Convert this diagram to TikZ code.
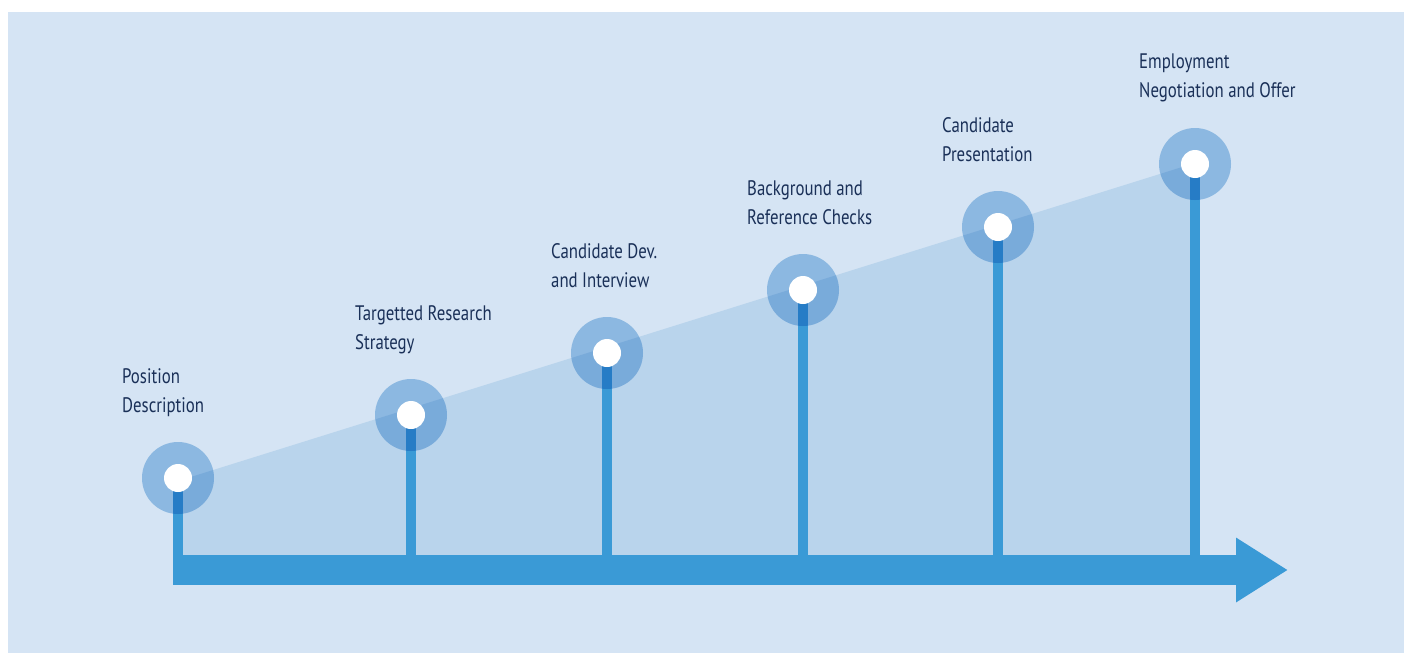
\documentclass[tikz,border=0pt]{standalone}
\usepackage{fontspec}
\setmainfont{PT Sans}[FakeStretch=0.8]
\usepackage{xcolor}
\usetikzlibrary{positioning, arrows.meta}

\definecolor{panelbg}{HTML}{D5E4F4}
\definecolor{areablue}{HTML}{B9D4EC}
\definecolor{axisblue}{HTML}{3A9AD6}
\definecolor{haloblue}{RGB}{168,206,236}
\definecolor{labelnavy}{HTML}{1A3058}

\begin{document}
\begin{tikzpicture}[x=1pt, y=-1pt,
    halo/.style={circle, fill=haloblue, minimum size=72pt, inner sep=0pt},
    dot/.style={circle, fill=white, minimum size=28pt, inner sep=0pt},
    stem/.style={axisblue, line width=10pt},
    axisline/.style={axisblue, line width=30pt, -{Triangle[width=61pt, length=52pt]}},
    steplabel/.style={anchor=north west, inner sep=0pt, align=left, text=labelnavy,
      font=\fontsize{21}{29}\selectfont}]
      \useasboundingbox (0,0) rectangle (1404,653);
      \fill[white] (0,0) rectangle (1404,653);
      \fill[panelbg] (8,12) rectangle (1404,653);

      % time axis
      \coordinate (a0) at (173,570);
      \coordinate (a1) at (1288,570);

      % rising area under the steps
      \fill[areablue] (178,481) -- (1195,163) -- (1195,555) -- (178,555) -- cycle;

      % steps
      \coordinate (h1) at (178,478);
      \coordinate (h2) at (411,415);
      \coordinate (h3) at (607,353);
      \coordinate (h4) at (803,290);
      \coordinate (h5) at (998,227);
      \coordinate (h6) at (1195,164);

      \draw[stem] (h1) -- (h1 |- a0);
      \draw[stem] (h2) -- (h2 |- a0);
      \draw[stem] (h3) -- (h3 |- a0);
      \draw[stem] (h4) -- (h4 |- a0);
      \draw[stem] (h5) -- (h5 |- a0);
      \draw[stem] (h6) -- (h6 |- a0);

      \draw[axisline] (a0) -- (a1);

      \begin{scope}[blend mode=multiply]
        \node[halo] (r1) at (h1) {};
        \node[halo] (r2) at (h2) {};
        \node[halo] (r3) at (h3) {};
        \node[halo] (r4) at (h4) {};
        \node[halo] (r5) at (h5) {};
        \node[halo] (r6) at (h6) {};
      \end{scope}

      \node[dot] (d1) at (r1) {};
      \node[dot] (d2) at (r2) {};
      \node[dot] (d3) at (r3) {};
      \node[dot] (d4) at (r4) {};
      \node[dot] (d5) at (r5) {};
      \node[dot] (d6) at (r6) {};

      % labels
      \node[steplabel] (t1) at (122,368) {Position\\Description};
      \node[steplabel] (t2) at (355,305) {Targetted Research\\Strategy};
      \node[steplabel] (t3) at (551,243) {Candidate Dev.\\and Interview};
      \node[steplabel] (t4) at (747,180) {Background and\\Reference Checks};
      \node[steplabel] (t5) at (942,117) {Candidate\\Presentation};
      \node[steplabel] (t6) at (1139,54) {Employment\\Negotiation and Offer};
    \end{tikzpicture}
\end{document}
